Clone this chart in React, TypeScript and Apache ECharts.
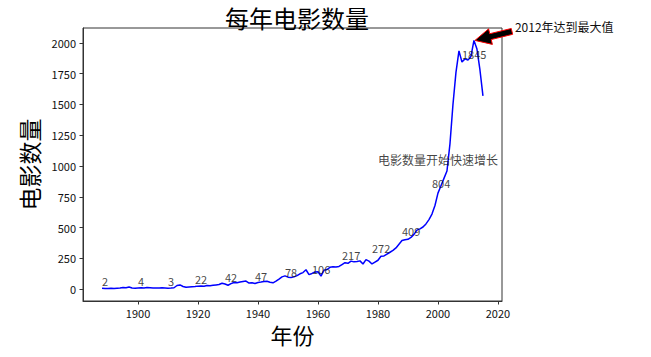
import React, { useEffect, useRef } from "react";
import * as echarts from "echarts";

const years = [
  1888, 1889, 1890, 1891, 1892, 1893, 1894, 1895, 1896, 1897, 1898, 1899,
  1900, 1901, 1902, 1903, 1904, 1905, 1906, 1907, 1908, 1909,
  1910, 1911, 1912, 1913, 1914, 1915, 1916, 1917, 1918, 1919,
  1920, 1921, 1922, 1923, 1924, 1925, 1926, 1927, 1928, 1929,
  1930, 1931, 1932, 1933, 1934, 1935, 1936, 1937, 1938, 1939,
  1940, 1941, 1942, 1943, 1944, 1945, 1946, 1947, 1948, 1949,
  1950, 1951, 1952, 1953, 1954, 1955, 1956, 1957, 1958, 1959,
  1960, 1961, 1962, 1963, 1964, 1965, 1966, 1967, 1968, 1969,
  1970, 1971, 1972, 1973, 1974, 1975, 1976, 1977, 1978, 1979,
  1980, 1981, 1982, 1983, 1984, 1985, 1986, 1987, 1988, 1989,
  1990, 1991, 1992, 1993, 1994, 1995, 1996, 1997, 1998, 1999,
  2000, 2001, 2002, 2003, 2004, 2005, 2006, 2007, 2008, 2009,
  2010, 2011, 2012, 2013, 2014, 2015,
];

const movieCounts = [
  8, 6, 5, 7, 6, 8, 10, 14, 12, 18, 10, 8,
  10, 12, 9, 14, 12, 10, 9, 10, 11, 10,
  8, 9, 12, 30, 35, 22, 16, 18, 20, 22,
  25, 26, 24, 30, 28, 32, 35, 38, 48, 42,
  32, 45, 55, 52, 58, 62, 66, 50, 52, 47,
  55, 58, 62, 64, 56, 52, 65, 82, 100, 108,
  98, 95, 100, 110, 125, 135, 158, 118, 128, 140,
  142, 106, 155, 160, 178, 182, 180, 185, 200, 215,
  210, 228, 222, 225, 230, 205, 240, 228, 205, 220,
  235, 268, 270, 285, 300, 315, 335, 365, 395, 402,
  405, 420, 445, 480, 490, 505, 530, 565, 610, 680,
  780, 840, 900, 960, 1180, 1500, 1760, 1935, 1845, 1870,
  1860, 1890, 2020, 1950, 1780, 1570,
];

const labelYears = [1888, 1900, 1910, 1919, 1929, 1939, 1949, 1958, 1968, 1978, 1988, 1998, 2008];
const labelValues = [2, 4, 3, 22, 42, 47, 78, 106, 217, 272, 409, 804, 1845];

const xTicks = [1900, 1920, 1940, 1960, 1980, 2000, 2020];
const yTicks = [0, 250, 500, 750, 1000, 1250, 1500, 1750, 2000];

const growthNote = { year: 1980, value: 1000, text: "电影数量开始快速增长" };
const peakNote = { year: 2012, value: 2020, text: "2012年达到最大值" };

const FONT = "'Noto Sans CJK SC', 'DejaVu Sans', sans-serif";

export default function App() {
  const ref = useRef<HTMLDivElement>(null);

  useEffect(() => {
    document.body.style.margin = "0";
    const el = ref.current!;
    const chart = echarts.init(el, undefined, { renderer: "svg" });

    const minYear = Math.min(...years);
    const maxYear = Math.max(...years);
    const span = maxYear - minYear;
    const minV = Math.min(...movieCounts);
    const maxV = Math.max(...movieCounts);
    const vspan = maxV - minV;

    chart.setOption({
      animation: false,
      backgroundColor: "#ffffff",
      textStyle: { fontFamily: FONT },
      title: {
        text: "每年电影数量",
        left: 292,
        top: 0,
        textAlign: "center",
        textStyle: { fontFamily: FONT, fontSize: 24, fontWeight: "normal", color: "#000" },
      },
      grid: {
        left: 83,
        top: 28,
        width: 419,
        height: 273,
        show: true,
        borderColor: "#333",
        borderWidth: 1,
        backgroundColor: "transparent",
      },
      xAxis: {
        type: "value",
        min: minYear - span * 0.05,
        max: maxYear + span * 0.05,
        name: "年份",
        nameLocation: "middle",
        nameGap: 21,
        nameTextStyle: { fontFamily: FONT, fontSize: 22, color: "#000" },
        splitLine: { show: false },
        axisLine: { show: true, onZero: false, lineStyle: { color: "#333", width: 1 } },
        axisTick: { show: true, length: 3.5, customValues: xTicks, lineStyle: { color: "#333" } },
        axisLabel: {
          customValues: xTicks,
          fontSize: 11,
          color: "#111",
          margin: 6,
          fontFamily: FONT,
          formatter: (v: number) => String(v),
        },
      },
      yAxis: {
        type: "value",
        min: minV - vspan * 0.05,
        max: maxV + vspan * 0.05,
        name: "电影数量",
        nameLocation: "middle",
        nameGap: 30,
        nameRotate: 90,
        nameTextStyle: { fontFamily: FONT, fontSize: 23, color: "#000" },
        splitLine: { show: false },
        axisLine: { show: true, onZero: false, lineStyle: { color: "#333", width: 1 } },
        axisTick: { show: true, length: 3.5, customValues: yTicks, lineStyle: { color: "#333" } },
        axisLabel: {
          customValues: yTicks,
          fontSize: 11,
          color: "#111",
          margin: 7,
          fontFamily: FONT,
          formatter: (v: number) => String(v),
        },
      },
      series: [
        {
          type: "line",
          data: years.map((y, i) => [y, movieCounts[i]]),
          showSymbol: false,
          symbol: "none",
          lineStyle: { color: "#0000ff", width: 1.5 },
          z: 2,
        },
        {
          type: "scatter",
          data: labelYears.map((y, i) => [y, labelValues[i]]),
          symbolSize: 0.01,
          itemStyle: { color: "transparent" },
          label: {
            show: true,
            position: [0, 0],
            align: "left",
            verticalAlign: "bottom",
            offset: [0, -2],
            fontSize: 11,
            color: "#111",
            fontFamily: FONT,
            formatter: (p: any) => String(p.value[1]),
          },
          z: 3,
        },
        {
          type: "scatter",
          data: [[growthNote.year, growthNote.value]],
          symbolSize: 0.01,
          itemStyle: { color: "transparent" },
          label: {
            show: true,
            position: [0, 0],
            align: "left",
            verticalAlign: "bottom",
            offset: [0, -1],
            fontSize: 12,
            color: "#111",
            fontFamily: FONT,
            formatter: () => growthNote.text,
          },
          z: 3,
        },
      ],
    });

    const p = chart.convertToPixel({ gridIndex: 0 }, [peakNote.year, peakNote.value]) as number[];
    const tip = [p[0] + 1, p[1]];
    const tail = [p[0] + 38, p[1] - 9];
    const dx = tip[0] - tail[0];
    const dy = tip[1] - tail[1];
    const len = Math.sqrt(dx * dx + dy * dy);
    const ux = dx / len;
    const uy = dy / len;
    const nx = -uy;
    const ny = ux;
    const headLen = 16;
    const headHalf = 8;
    const shaftHalf = 3;
    const bx = tip[0] - ux * headLen;
    const by = tip[1] - uy * headLen;
    const pts = [
      [tail[0] + nx * shaftHalf, tail[1] + ny * shaftHalf],
      [bx + nx * shaftHalf, by + ny * shaftHalf],
      [bx + nx * headHalf, by + ny * headHalf],
      [tip[0], tip[1]],
      [bx - nx * headHalf, by - ny * headHalf],
      [bx - nx * shaftHalf, by - ny * shaftHalf],
      [tail[0] - nx * shaftHalf, tail[1] - ny * shaftHalf],
    ];

    chart.setOption({
      graphic: [
        {
          type: "polygon",
          shape: { points: pts },
          style: { fill: "#000", stroke: "#ff0000", lineWidth: 1 },
          z: 10,
        },
        {
          type: "text",
          x: p[0] + 41,
          y: p[1] - 13.5,
          style: {
            text: peakNote.text,
            fontSize: 12,
            fontFamily: FONT,
            fill: "#111",
            verticalAlign: "middle",
            align: "left",
          },
          z: 10,
        },
      ],
    });

    return () => chart.dispose();
  }, []);

  return <div ref={ref} style={{ width: 651, height: 357 }} />;
}
